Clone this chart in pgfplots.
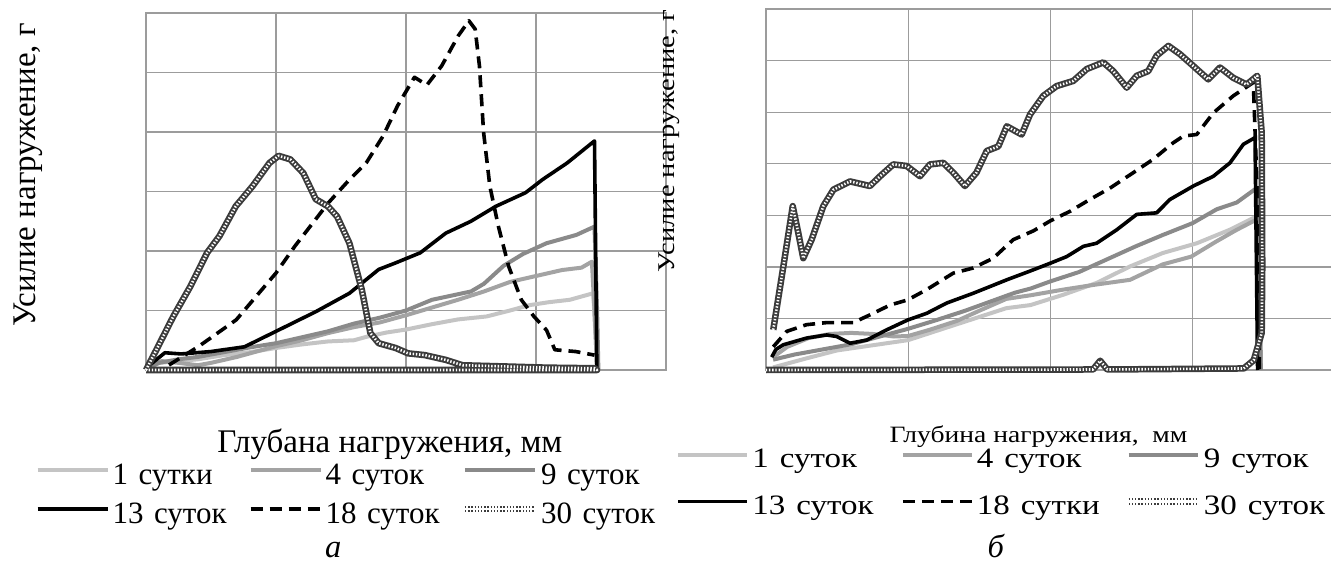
\documentclass[border=0pt]{standalone}
\usepackage{pgfplots}
\usepackage{pgfplotstable}
\pgfplotsset{compat=1.18}
\usepackage{fontspec}
\setmainfont{Liberation Serif}

\definecolor{gOne}{HTML}{C4C4C4}
\definecolor{gFour}{HTML}{A3A3A3}
\definecolor{gNine}{HTML}{8A8A8A}
\definecolor{gridc}{HTML}{9C9C9C}
\definecolor{chain}{HTML}{3C3C3C}

% 30-day series (panel a and panel b)
\pgfplotstableread{
x y
0.0 0.0
0.08 0.34
0.21 0.9
0.34 1.40
0.47 1.97
0.565 2.25
0.69 2.75
0.82 3.09
0.95 3.48
1.02 3.6
1.11 3.54
1.21 3.31
1.306 2.87
1.40 2.75
1.47 2.58
1.565 2.13
1.66 1.35
1.726 0.62
1.79 0.45
1.92 0.37
2.016 0.28
2.145 0.25
2.306 0.17
2.435 0.08
2.76 0.06
3.08 0.04
3.45 0.03
3.47 0.0
0.0 0.0
}\thirtyA

\pgfplotstableread{
x y
0.051 0.78
0.122 2.01
0.188 3.18
0.227 2.66
0.262 2.17
0.321 2.53
0.403 3.18
0.474 3.50
0.591 3.66
0.731 3.57
0.802 3.76
0.895 3.99
0.989 3.96
1.083 3.76
1.153 3.99
1.247 4.02
1.317 3.83
1.399 3.57
1.48 3.83
1.552 4.25
1.634 4.34
1.693 4.73
1.798 4.57
1.857 4.96
1.95 5.32
2.044 5.51
2.161 5.61
2.255 5.84
2.372 5.97
2.442 5.80
2.537 5.48
2.607 5.71
2.688 5.80
2.747 6.10
2.83 6.29
2.911 6.13
3.005 5.90
3.11 5.64
3.193 5.87
3.286 5.67
3.38 5.54
3.455 5.71
3.486 4.60
3.49 2.01
3.486 0.72
3.43 0.19
3.36 0.03
2.40 0.01
2.35 0.18
2.30 0.01
0.0 0.0
}\thirtyB

\newcommand{\legendlift}{7.2bp}
\newcommand{\legendlen}{70bp}

\tikzset{
  s30base/.style={chain, line width=6.5bp, line join=round},
}

\pgfplotsset{
  panel/.style={
    scale only axis,
    xmin=0, xmax=4, ymin=0,
    xtick={0,1,2,3,4}, ytick distance=1,
    xticklabels={}, yticklabels={},
    major tick length=0pt,
    grid=major,
    major grid style={gridc, line width=1.2bp},
    axis line style={gridc, line width=1.6bp},
    clip=false,
    legend columns=3,
    legend cell align=left,
    legend image code/.code={\draw[##1] (0bp,\legendlift) -- (\legendlen,\legendlift);},
  },
  s1/.style={gOne, line width=4bp, line join=round},
  s4/.style={gFour, line width=4bp, line join=round},
  s9/.style={gNine, line width=4bp, line join=round},
  s13/.style={black, line width=3.6bp, line join=round},
  s18/.style={black, line width=3.6bp, dash pattern=on 12bp off 7bp, line join=round},
  s30/.style={white, line width=2.6bp, dash pattern=on 1.4bp off 1.8bp, line join=round,
    legend image code/.code={
      \draw[chain, line width=6.5bp] (0bp,\legendlift) -- (\legendlen,\legendlift);
      \draw[##1] (0bp,\legendlift) -- (\legendlen,\legendlift);}},
}

\begin{document}
\begin{tikzpicture}
% ---------- panel a ----------
\begin{axis}[panel,
  at={(146bp,199bp)}, anchor=south west,
  width=520bp, height=357bp, ymax=6,
  label style={font=\fontsize{33bp}{38bp}\selectfont},
  ylabel={Усилие нагружение, г},
  ylabel style={at={(rel axis cs:-0.227,0.546)}, anchor=center},
  xlabel={Глубана нагружения, мм},
  xlabel style={at={(rel axis cs:0.469,-0.2297)}, anchor=base},
  legend style={draw=none, fill=none, inner sep=0pt,
    at={(-0.2125,-0.2605)}, anchor=north west,
    font=\fontsize{31bp}{36bp}\selectfont,
    row sep=10.7bp, column sep=0pt,
    nodes={inner xsep=3bp, inner ysep=0pt, text height=21.5bp, text depth=6.8bp, text width=133bp}},
]
\addplot[s1] coordinates {(0.02,0.02) (0.1,0.12) (0.25,0.15) (0.4,0.18) (0.6,0.25) (0.8,0.3) (1.0,0.37) (1.2,0.43) (1.4,0.48) (1.6,0.5) (1.7,0.56) (1.85,0.63) (2.0,0.68) (2.2,0.77) (2.4,0.85) (2.62,0.9) (2.8,1.0) (2.95,1.09) (3.1,1.14) (3.26,1.18) (3.44,1.29) (3.46,0.5) (3.47,0.0)};
\addlegendentry{1 сутки}
\addplot[s4] coordinates {(0.02,0.03) (0.12,0.15) (0.25,0.12) (0.4,0.08) (0.5,0.12) (0.7,0.22) (1.0,0.4) (1.2,0.5) (1.4,0.62) (1.6,0.72) (1.8,0.8) (2.0,0.92) (2.2,1.05) (2.4,1.18) (2.6,1.32) (2.8,1.48) (3.0,1.58) (3.2,1.68) (3.35,1.72) (3.43,1.82) (3.45,1.0) (3.47,0.0)};
\addlegendentry{4 суток}
\addplot[s9] coordinates {(0.02,0.05) (0.1,0.12) (0.25,0.18) (0.4,0.22) (0.6,0.3) (0.8,0.38) (1.0,0.45) (1.2,0.55) (1.4,0.65) (1.6,0.78) (1.8,0.88) (2.0,1.0) (2.2,1.18) (2.35,1.25) (2.5,1.32) (2.6,1.45) (2.75,1.75) (2.9,1.95) (3.08,2.13) (3.31,2.27) (3.45,2.41) (3.47,1.0) (3.48,0.0)};
\addlegendentry{9 суток}
\addplot[s13] coordinates {(0.016,0.06) (0.145,0.29) (0.27,0.27) (0.5,0.31) (0.758,0.39) (1.0,0.65) (1.306,0.98) (1.565,1.29) (1.79,1.69) (1.92,1.80) (2.11,1.97) (2.306,2.30) (2.5,2.5) (2.69,2.75) (2.92,2.98) (3.05,3.20) (3.24,3.48) (3.45,3.85) (3.468,0.03)};
\addlegendentry{13 суток}
\addplot[s18] coordinates {(0.177,0.084) (0.403,0.393) (0.694,0.843) (1.0,1.63) (1.145,2.08) (1.403,2.81) (1.565,3.20) (1.694,3.48) (1.823,3.93) (1.935,4.44) (2.065,4.92) (2.161,4.79) (2.274,5.11) (2.403,5.62) (2.484,5.87) (2.532,5.73) (2.565,5.11) (2.597,3.99) (2.645,3.09) (2.71,2.42) (2.79,1.74) (2.887,1.18) (2.984,0.90) (3.081,0.67) (3.145,0.34) (3.306,0.31) (3.45,0.25)};
\addlegendentry{18 суток}
\addplot[s30base, forget plot] table {\thirtyA};
\addplot[s30] table {\thirtyA};
\addlegendentry{30 суток}
\node[font=\fontsize{32.5bp}{38bp}\selectfont\itshape, anchor=base] at (rel axis cs:0.36,-0.524) {а};
\end{axis}

% ---------- panel b ----------
\renewcommand{\legendlift}{6.5bp}
\renewcommand{\legendlen}{69bp}
\begin{axis}[panel,
  at={(766bp,199bp)}, anchor=south west,
  width=568.8bp, height=360.7bp, ymax=7,
  label style={font=\fontsize{30bp}{36bp}\selectfont},
  ylabel={\scalebox{0.95}[0.8]{Усилие нагружение, г}},
  ylabel style={at={(rel axis cs:-0.1697,0.635)}, anchor=center},
  xlabel={\scalebox{0.92}[0.78]{Глубина нагружения,~~мм}},
  xlabel style={at={(rel axis cs:0.479,-0.202)}, anchor=base},
  legend style={draw=none, fill=none, inner sep=0pt,
    at={(-0.158,-0.2176)}, anchor=north west,
    font=\fontsize{33bp}{38bp}\selectfont,
    row sep=22bp, column sep=0pt,
    nodes={inner xsep=3bp, inner ysep=0pt, text height=19bp, text depth=6bp, text width=145.5bp}},
]
\addplot[s1] coordinates {(0.05,0.05) (0.29,0.23) (0.5,0.38) (0.75,0.48) (1.0,0.58) (1.3,0.85) (1.69,1.2) (1.86,1.26) (2.09,1.46) (2.325,1.69) (2.56,2.01) (2.79,2.27) (3.03,2.46) (3.26,2.72) (3.45,2.98) (3.47,1.5) (3.48,0.0)};
\addlegendentry{\scalebox{1}[0.85]{1 суток}}
\addplot[s4] coordinates {(0.05,0.25) (0.15,0.45) (0.3,0.62) (0.45,0.7) (0.6,0.72) (0.75,0.7) (0.9,0.65) (1.0,0.66) (1.15,0.78) (1.34,0.95) (1.5,1.15) (1.69,1.38) (1.86,1.45) (2.09,1.56) (2.3,1.65) (2.56,1.75) (2.79,2.05) (2.99,2.2) (3.17,2.5) (3.31,2.72) (3.45,2.92) (3.47,1.5) (3.48,0.0)};
\addlegendentry{\scalebox{1}[0.85]{4 суток}}
\addplot[s9] coordinates {(0.05,0.2) (0.2,0.3) (0.4,0.4) (0.6,0.5) (0.8,0.65) (1.0,0.8) (1.2,0.97) (1.4,1.15) (1.6,1.35) (1.75,1.5) (1.86,1.58) (2.0,1.72) (2.2,1.9) (2.44,2.2) (2.6,2.4) (2.79,2.62) (3.0,2.85) (3.17,3.12) (3.31,3.25) (3.45,3.53) (3.47,1.5) (3.48,0.0)};
\addlegendentry{\scalebox{1}[0.85]{9 суток}}
\addplot[s13] coordinates {(0.04,0.25) (0.07,0.4) (0.122,0.49) (0.286,0.62) (0.427,0.68) (0.497,0.65) (0.591,0.52) (0.708,0.58) (0.849,0.78) (0.996,0.97) (1.13,1.10) (1.271,1.30) (1.458,1.49) (1.693,1.75) (1.857,1.92) (1.997,2.07) (2.114,2.20) (2.232,2.40) (2.325,2.46) (2.466,2.72) (2.607,3.02) (2.747,3.05) (2.841,3.31) (3.005,3.57) (3.146,3.76) (3.263,4.02) (3.357,4.38) (3.439,4.51) (3.457,0.0)};
\addlegendentry{\scalebox{1}[0.85]{13 суток}}
\addplot[s18] coordinates {(0.051,0.45) (0.146,0.75) (0.286,0.88) (0.427,0.92) (0.614,0.92) (0.731,1.07) (0.872,1.26) (0.996,1.36) (1.13,1.56) (1.317,1.88) (1.458,1.98) (1.598,2.17) (1.739,2.53) (1.88,2.70) (1.997,2.89) (2.138,3.08) (2.278,3.31) (2.419,3.53) (2.583,3.83) (2.723,4.09) (2.864,4.41) (2.935,4.54) (3.029,4.57) (3.146,4.99) (3.286,5.32) (3.427,5.58) (3.46,3.0) (3.47,0.0)};
\addlegendentry{\scalebox{1}[0.85]{18 сутки}}
\addplot[s30base, forget plot] table {\thirtyB};
\addplot[s30] table {\thirtyB};
\addlegendentry{\scalebox{1}[0.85]{30 суток}}
\node[font=\fontsize{32.5bp}{38bp}\selectfont\itshape, anchor=base] at (rel axis cs:0.404,-0.521) {б};
\end{axis}
\pgfresetboundingbox
\useasboundingbox (0bp,0bp) rectangle (1331bp,569bp);
\end{tikzpicture}
\end{document}
